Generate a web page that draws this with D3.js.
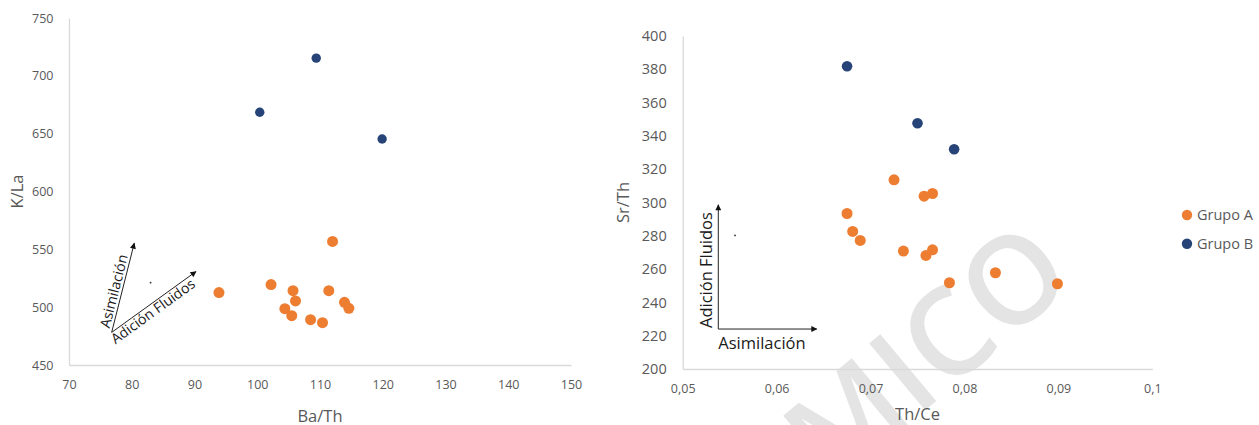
<!DOCTYPE html>
<html>
<head>
<meta charset="utf-8">
<script src="https://cdn.jsdelivr.net/npm/d3@7"></script>
<style>
  body { margin: 0; background: #fff; }
  svg { display: block; }
  text { font-family: "Open Sans", "DejaVu Sans", sans-serif; }
</style>
</head>
<body>
<svg id="chart" width="1259" height="425"></svg>
<script>
// ---- Panel 1: Ba/Th vs K/La ----
const baThA = [93.9, 102.2, 105.7, 106.1, 104.4, 105.5, 108.5, 110.4, 112.0, 111.4, 113.9, 114.6];
const kLaA  = [512.6, 519.5, 514.3, 505.4, 498.7, 492.6, 489.2, 486.6, 556.8, 514.3, 504.2, 499.0];
const baThB = [109.4, 100.4, 119.9];
const kLaB  = [715.3, 668.5, 645.4];
const ticksBaTh = [70, 80, 90, 100, 110, 120, 130, 140, 150];
const ticksKLa  = [450, 500, 550, 600, 650, 700, 750];

// ---- Panel 2: Th/Ce vs Sr/Th ----
const thCeA = [0.0725, 0.0757, 0.0766, 0.0675, 0.0681, 0.0689, 0.0735, 0.0759, 0.0766, 0.0784, 0.0833, 0.0899];
const srThA = [313.6, 303.8, 305.4, 293.4, 282.6, 277.2, 270.8, 268.2, 271.6, 251.8, 257.8, 251.2];
const thCeB = [0.0675, 0.0750, 0.0789];
const srThB = [381.8, 347.6, 332.0];
const ticksThCe = [0.05, 0.06, 0.07, 0.08, 0.09, 0.1];
const ticksSrTh = [200, 220, 240, 260, 280, 300, 320, 340, 360, 380, 400];

const groupNames  = ["Grupo A", "Grupo B"];
const groupColors = ["#ED7D31", "#264478"];

const svg = d3.select("#chart");
const axisColor = "#d9d9d9";
const labelColor = "#595959";

// scales
const x1 = d3.scaleLinear().domain([70, 150]).range([69, 571]);
const y1 = d3.scaleLinear().domain([450, 750]).range([365, 18]);
const x2 = d3.scaleLinear().domain([0.05, 0.1]).range([682.7, 1152.3]);
const y2 = d3.scaleLinear().domain([200, 400]).range([369, 36]);

// faint diagonal watermark behind the right panel
svg.append("text")
  .attr("transform", "translate(924,350) rotate(-40)")
  .attr("text-anchor", "middle")
  .attr("dominant-baseline", "central")
  .attr("font-size", 122)
  .attr("font-weight", 600)
  .attr("fill", "#e4e4e4")
  .text("MICO");

function styleAxis(g, size) {
  g.select(".domain").attr("stroke", axisColor).attr("stroke-width", 1.3);
  g.selectAll(".tick line").remove();
  g.selectAll(".tick text").attr("fill", labelColor).attr("font-size", size);
}

const comma = d => String(d).replace(".", ",");

// Panel 1 axes
svg.append("g").attr("transform", `translate(0,${y1(450)})`)
  .call(d3.axisBottom(x1).tickValues(ticksBaTh).tickSize(0).tickSizeOuter(0).tickPadding(15.5))
  .call(g => styleAxis(g, 12.5));
svg.append("g").attr("transform", `translate(${x1(70)},0)`)
  .call(d3.axisLeft(y1).tickValues(ticksKLa).tickSize(0).tickSizeOuter(0).tickPadding(15.5))
  .call(g => styleAxis(g, 12.5));

// Panel 2 axes
svg.append("g").attr("transform", `translate(0,${y2(200)})`)
  .call(d3.axisBottom(x2).tickValues(ticksThCe).tickFormat(comma).tickSize(0).tickSizeOuter(0).tickPadding(15.5))
  .call(g => styleAxis(g, 12.5));
svg.append("g").attr("transform", `translate(${x2(0.05)},0)`)
  .call(d3.axisLeft(y2).tickValues(ticksSrTh).tickSize(0).tickSizeOuter(0).tickPadding(16))
  .call(g => styleAxis(g, 14.5));

// axis titles
function title(x, y, txt, rot) {
  svg.append("text")
    .attr("transform", `translate(${x},${y})` + (rot ? ` rotate(${rot})` : ""))
    .attr("text-anchor", "middle")
    .attr("font-size", 16.5)
    .attr("fill", labelColor)
    .text(txt);
}
title((x1(70) + x1(150)) / 2, 421.5, "Ba/Th");
title(23, (y1(450) + y1(750)) / 2, "K/La", -90);
title((x2(0.05) + x2(0.1)) / 2, 420, "Th/Ce");
title(629, (y2(200) + y2(400)) / 2, "Sr/Th", -90);

// arrowhead marker
svg.append("defs").append("marker")
  .attr("id", "tip").attr("viewBox", "0 0 10 10")
  .attr("refX", 9).attr("refY", 5)
  .attr("markerWidth", 7).attr("markerHeight", 6)
  .attr("markerUnits", "userSpaceOnUse")
  .attr("orient", "auto")
  .append("path").attr("d", "M0,0 L10,5 L0,10 Z").attr("fill", "#111");

function arrow(xa, ya, xb, yb) {
  svg.append("line")
    .attr("x1", xa).attr("y1", ya).attr("x2", xb).attr("y2", yb)
    .attr("stroke", "#222").attr("stroke-width", 1)
    .attr("marker-end", "url(#tip)");
}

// Panel 1 process vectors (data coordinates)
const p1Origin = [76.8, 478.2], p1Asim = [80.4, 555.3], p1Fluid = [90.24, 530.8], p1Dot = [83.0, 521.2];
{
  const ox = x1(p1Origin[0]), oy = y1(p1Origin[1]);
  const ax = x1(p1Asim[0]), ay = y1(p1Asim[1]);
  const fx = x1(p1Fluid[0]), fy = y1(p1Fluid[1]);
  arrow(ox, oy, ax, ay);
  arrow(ox, oy, fx, fy);
  const angA = Math.atan2(ay - oy, ax - ox) * 180 / Math.PI;
  const angF = Math.atan2(fy - oy, fx - ox) * 180 / Math.PI;
  svg.append("text")
    .attr("transform", `translate(${ox},${oy}) rotate(${angA})`)
    .attr("x", 3).attr("y", -3)
    .attr("font-size", 14.2).attr("fill", "#1a1a1a")
    .text("Asimilación");
  svg.append("text")
    .attr("transform", `translate(${ox},${oy}) rotate(${angF})`)
    .attr("x", -4).attr("y", 12)
    .attr("font-size", 14.2).attr("fill", "#1a1a1a")
    .text("Adición Fluidos");
  svg.append("circle").attr("cx", x1(p1Dot[0])).attr("cy", y1(p1Dot[1])).attr("r", 0.9).attr("fill", "#333");
}

// Panel 2 process vectors (data coordinates)
const p2Origin = [0.05379, 224.0], p2Fluid = [0.05379, 298.6], p2Asim = [0.06427, 224.0], p2Dot = [0.05557, 280.2];
{
  const ox = x2(p2Origin[0]), oy = y2(p2Origin[1]);
  arrow(ox, oy, x2(p2Fluid[0]), y2(p2Fluid[1]));
  arrow(ox, oy, x2(p2Asim[0]), y2(p2Asim[1]));
  svg.append("text")
    .attr("transform", `translate(${ox - 6},${oy - 1}) rotate(-90)`)
    .attr("font-size", 16.5).attr("fill", "#1a1a1a")
    .text("Adición Fluidos");
  svg.append("text")
    .attr("x", ox).attr("y", oy + 20)
    .attr("font-size", 16.5).attr("fill", "#1a1a1a")
    .text("Asimilación");
  svg.append("circle").attr("cx", x2(p2Dot[0])).attr("cy", y2(p2Dot[1])).attr("r", 0.9).attr("fill", "#333");
}

// points
function points(xs, ys, sx, sy, color, r) {
  svg.append("g").selectAll("circle")
    .data(xs.map((v, i) => [v, ys[i]]))
    .join("circle")
    .attr("cx", d => sx(d[0])).attr("cy", d => sy(d[1]))
    .attr("r", r).attr("fill", color);
}
points(baThA, kLaA, x1, y1, groupColors[0], 5.5);
points(baThB, kLaB, x1, y1, groupColors[1], 4.7);
points(thCeA, srThA, x2, y2, groupColors[0], 5.5);
points(thCeB, srThB, x2, y2, groupColors[1], 5.3);

// legend
const legend = svg.append("g").attr("transform", "translate(1187,215)");
groupNames.forEach((name, i) => {
  const g = legend.append("g").attr("transform", `translate(0,${i * 28.7})`);
  g.append("circle").attr("r", 5.2).attr("fill", groupColors[i]);
  g.append("text").attr("x", 10).attr("dy", "0.35em")
    .attr("font-size", 14.5).attr("fill", labelColor).text(name);
});
</script>
</body>
</html>
